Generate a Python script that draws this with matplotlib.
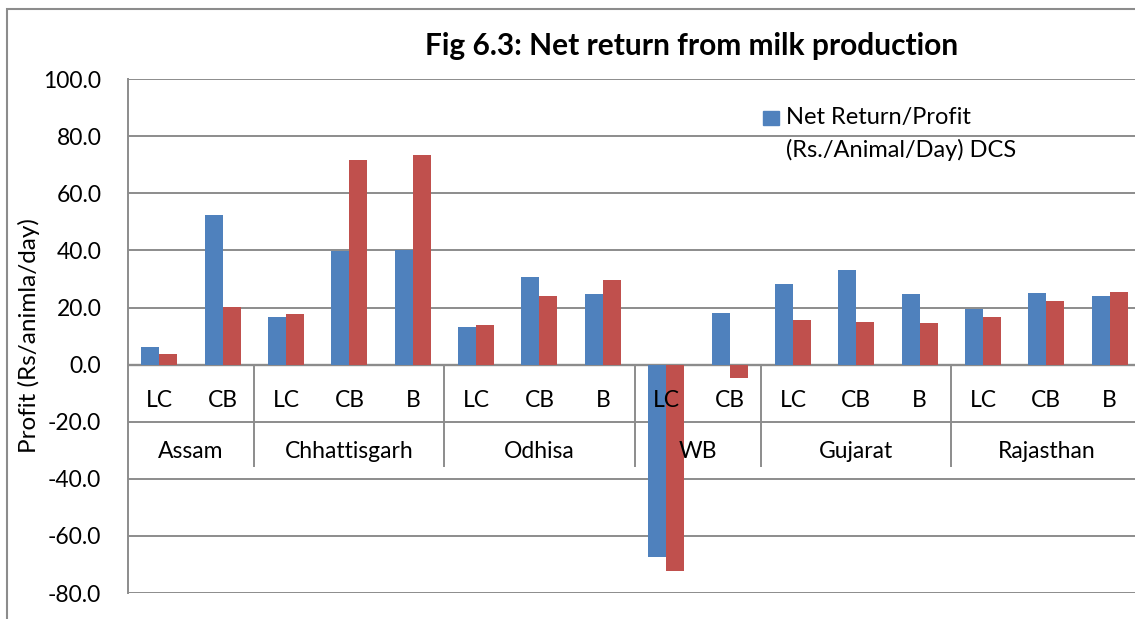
import numpy as np
import matplotlib
matplotlib.use('Agg')
import matplotlib.pyplot as plt
from matplotlib.patches import Rectangle
from matplotlib.ticker import FormatStrFormatter

plt.rcParams['font.family'] = ['Lato', 'DejaVu Sans']

# data
states = ['Assam', 'Chhattisgarh', 'Odhisa', 'WB', 'Gujarat', 'Rajasthan']
breeds = [['LC', 'CB'], ['LC', 'CB', 'B'], ['LC', 'CB', 'B'],
          ['LC', 'CB'], ['LC', 'CB', 'B'], ['LC', 'CB', 'B']]
dcs = [6.2, 52.5, 16.6, 39.9, 40.0, 13.2, 30.6, 24.9,
       -67.4, 18.2, 28.1, 33.0, 24.9, 19.4, 25.2, 24.1]
non_dcs = [3.7, 20.1, 17.9, 71.7, 73.3, 13.9, 24.0, 29.8,
           -72.4, -4.6, 15.8, 14.8, 14.7, 16.6, 22.4, 25.6]

W, H = 1135, 619
fig = plt.figure(figsize=(W / 100, H / 100), dpi=100)
ax = fig.add_axes([127.7 / W, 1 - 593.1 / H, 1013.6 / W, 514 / H])

grid_col = '#8c8c8c'
x = np.arange(len(dcs))
bw = 0.284
ax.bar(x - bw / 2, dcs, bw, color='#4F81BD', zorder=2,
       label='Net Return/Profit (Rs./Animal/Day) DCS')
ax.bar(x + bw / 2, non_dcs, bw, color='#C0504D', zorder=2,
       label='Net Return/Profit (Rs./Animal/Day) Non-DCS')

ax.set_xlim(-0.5, len(dcs) - 0.5)
ax.set_ylim(-80, 100)
ax.set_yticks(np.arange(-80, 101, 20))
ax.yaxis.set_major_formatter(FormatStrFormatter('%.1f'))
ax.tick_params(axis='y', length=0, pad=19, labelsize=16.5)
ax.set_xticks([])
ax.grid(axis='y', color=grid_col, lw=1.4, zorder=0)
ax.axhline(0, color=grid_col, lw=1.7, zorder=1)
for s in ['top', 'right', 'bottom']:
    ax.spines[s].set_visible(False)
ax.spines['left'].set_color(grid_col)
ax.spines['left'].set_linewidth(1.4)

# multi-level category labels inside the plot
flat = [b for grp in breeds for b in grp]
for i, b in enumerate(flat):
    ax.text(i, -12.5, b, ha='center', va='center', fontsize=16.5, zorder=3)
start = 0
bounds = []
for st, grp in zip(states, breeds):
    n = len(grp)
    ax.text(start + (n - 1) / 2, -30.4, st, ha='center', va='center',
            fontsize=16.5, zorder=3)
    start += n
    bounds.append(start - 0.5)
ax.vlines(bounds[:-1], -35.9, 0, color=grid_col, lw=1.4, zorder=1)

# titles
fig.text(691.7 / W, 1 - 46.5 / H, 'Fig 6.3: Net return from milk production',
         ha='center', va='center', fontsize=21.5, fontweight='bold')
fig.text(29 / W, 1 - 336 / H, 'Profit (Rs/animla/day)', rotation=90,
         ha='center', va='center', fontsize=17.5)

# legend (only the first entry is visible in the original)
fig.patches.append(Rectangle((762.7 / W, 1 - 125 / H), 16.3 / W, 14.3 / H,
                             transform=fig.transFigure, color='#4F81BD'))
fig.text(785.7 / W, 1 - 117.8 / H, 'Net Return/Profit', ha='left',
         va='center', fontsize=17)
fig.text(785.7 / W, 1 - 150.3 / H, '(Rs./Animal/Day) DCS', ha='left',
         va='center', fontsize=17)

# outer chart border
fig.patches.append(Rectangle((7 / W, -0.1), 1.2, 1.1 - 8.7 / H, fill=False,
                             edgecolor=grid_col, lw=1.5,
                             transform=fig.transFigure))

fig.savefig('out.png', dpi=100)
